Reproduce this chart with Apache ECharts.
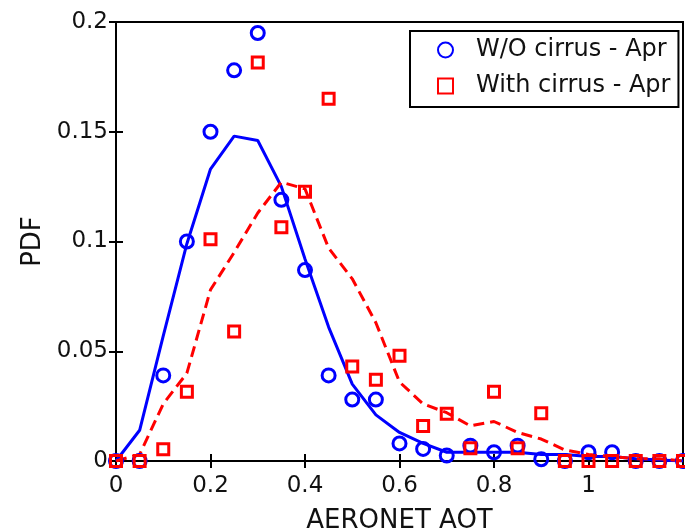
<!DOCTYPE html>
<html>
<head>
<meta charset="utf-8">
<script src="https://cdn.jsdelivr.net/npm/echarts@6/dist/echarts.min.js"></script>
<style>
html,body{margin:0;padding:0;background:#fff;}
#chart{width:685px;height:531px;}
</style>
</head>
<body>
<div id="chart"></div>
<script>
// AERONET AOT bins
var aot = [0,0.05,0.1,0.15,0.2,0.25,0.3,0.35,0.4,0.45,0.5,0.55,0.6,0.65,0.7,0.75,0.8,0.85,0.9,0.95,1.0,1.05,1.1,1.15,1.2];
// W/O cirrus - Apr (circles)
var woCirrus = [0,0,0.039,0.100,0.150,0.178,0.195,0.119,0.087,0.039,0.028,0.028,0.008,0.0055,0.0025,0.007,0.004,0.007,0.0008,0,0.004,0.004,0,0,0];
// With cirrus - Apr (squares)
var withCirrus = [0,0,0.0053,0.0316,0.101,0.059,0.1815,0.1065,0.1227,0.165,0.043,0.037,0.048,0.016,0.0215,0.0058,0.0316,0.0058,0.0217,0,0,0,0,0,0];
// Fitted curves
var woFit = [0,0.014,0.057,0.099,0.133,0.148,0.146,0.125,0.092,0.061,0.035,0.021,0.013,0.008,0.004,0.004,0.004,0.004,0.003,0.003,0.002,0.002,0.001,0.0005,0];
var withFit = [0,0.003,0.026,0.040,0.078,0.095,0.113,0.127,0.124,0.097,0.083,0.063,0.036,0.026,0.022,0.016,0.018,0.013,0.010,0.005,0.003,0.002,0.001,0.001,0];
var xTicks = [0,0.2,0.4,0.6,0.8,1];
var yTicks = [0,0.05,0.1,0.15,0.2];

function pairs(ys){ return aot.map(function(x,i){ return [x, ys[i]]; }); }

var FONT = 'DejaVu Sans';
var chart = echarts.init(document.getElementById('chart'), null, {renderer:'canvas'});
var axisLineStyle = {color:'#000', width:2};
chart.setOption({
  animation:false,
  backgroundColor:'#fff',
  grid:{left:116,right:2,top:22,bottom:70,containLabel:false,outerBoundsMode:'none',
        show:true,borderColor:'#000',borderWidth:2,backgroundColor:'transparent'},
  legend:{
    data:['W/O cirrus - Apr','With cirrus - Apr'],
    orient:'vertical', left:410, top:31,
    padding:[7,8,9,27], itemGap:12,
    itemWidth:15, itemHeight:15,
    backgroundColor:'#fff', borderColor:'#000', borderWidth:2,
    textStyle:{fontFamily:FONT,fontSize:24,color:'#111',padding:[0,0,0,18]}
  },
  xAxis:[{
    type:'value', min:0, max:1.2, interval:0.2,
    name:'AERONET AOT', nameLocation:'middle', nameGap:47,
    nameTextStyle:{fontFamily:FONT,fontSize:26,color:'#111'},
    axisLine:{show:true,lineStyle:axisLineStyle},
    axisTick:{show:true,inside:true,length:7,lineStyle:axisLineStyle},
    axisLabel:{fontFamily:FONT,fontSize:23,color:'#111',margin:14,
      formatter:function(v){ for(var i=0;i<xTicks.length;i++){ if(Math.abs(v-xTicks[i])<1e-9) return String(xTicks[i]); } return ''; }},
    splitLine:{show:false}
  },{
    type:'value', position:'top', min:0, max:1.2, interval:0.2,
    axisLine:{show:true,lineStyle:axisLineStyle},
    axisTick:{show:true,inside:true,length:7,lineStyle:axisLineStyle},
    axisLabel:{show:false}, splitLine:{show:false}
  }],
  yAxis:[{
    type:'value', min:0, max:0.2, interval:0.05,
    name:'PDF', nameLocation:'middle', nameGap:70, nameRotate:90,
    nameTextStyle:{fontFamily:FONT,fontSize:26,color:'#111'},
    axisLine:{show:true,lineStyle:axisLineStyle},
    axisTick:{show:true,inside:true,length:7,lineStyle:axisLineStyle},
    axisLabel:{fontFamily:FONT,fontSize:23,color:'#111',margin:8,
      formatter:function(v){ for(var i=0;i<yTicks.length;i++){ if(Math.abs(v-yTicks[i])<1e-9) return String(yTicks[i]); } return ''; }},
    splitLine:{show:false}
  },{
    type:'value', position:'right', min:0, max:0.2, interval:0.05,
    axisLine:{show:true,lineStyle:axisLineStyle},
    axisTick:{show:true,inside:true,length:7,lineStyle:axisLineStyle},
    axisLabel:{show:false}, splitLine:{show:false}
  }],
  series:[
    {name:'W/O cirrus - Apr', type:'scatter', data:pairs(woCirrus), symbol:'circle', symbolSize:13,
     itemStyle:{color:'rgba(0,0,255,0)', borderColor:'#0000ff', borderWidth:3, opacity:1}, z:3},
    {name:'With cirrus - Apr', type:'scatter', data:pairs(withCirrus), symbol:'rect', symbolSize:11,
     itemStyle:{color:'rgba(255,0,0,0)', borderColor:'#ff0000', borderWidth:3, opacity:1}, z:4},
    {name:'fit1', type:'line', data:pairs(woFit), showSymbol:false, symbol:'none', smooth:false,
     lineStyle:{color:'#0000ff', width:3}, z:2},
    {name:'fit2', type:'line', data:pairs(withFit), showSymbol:false, symbol:'none', smooth:false,
     lineStyle:{color:'#ff0000', width:3, type:[11,6]}, z:2}
  ]
});
</script>
</body>
</html>
